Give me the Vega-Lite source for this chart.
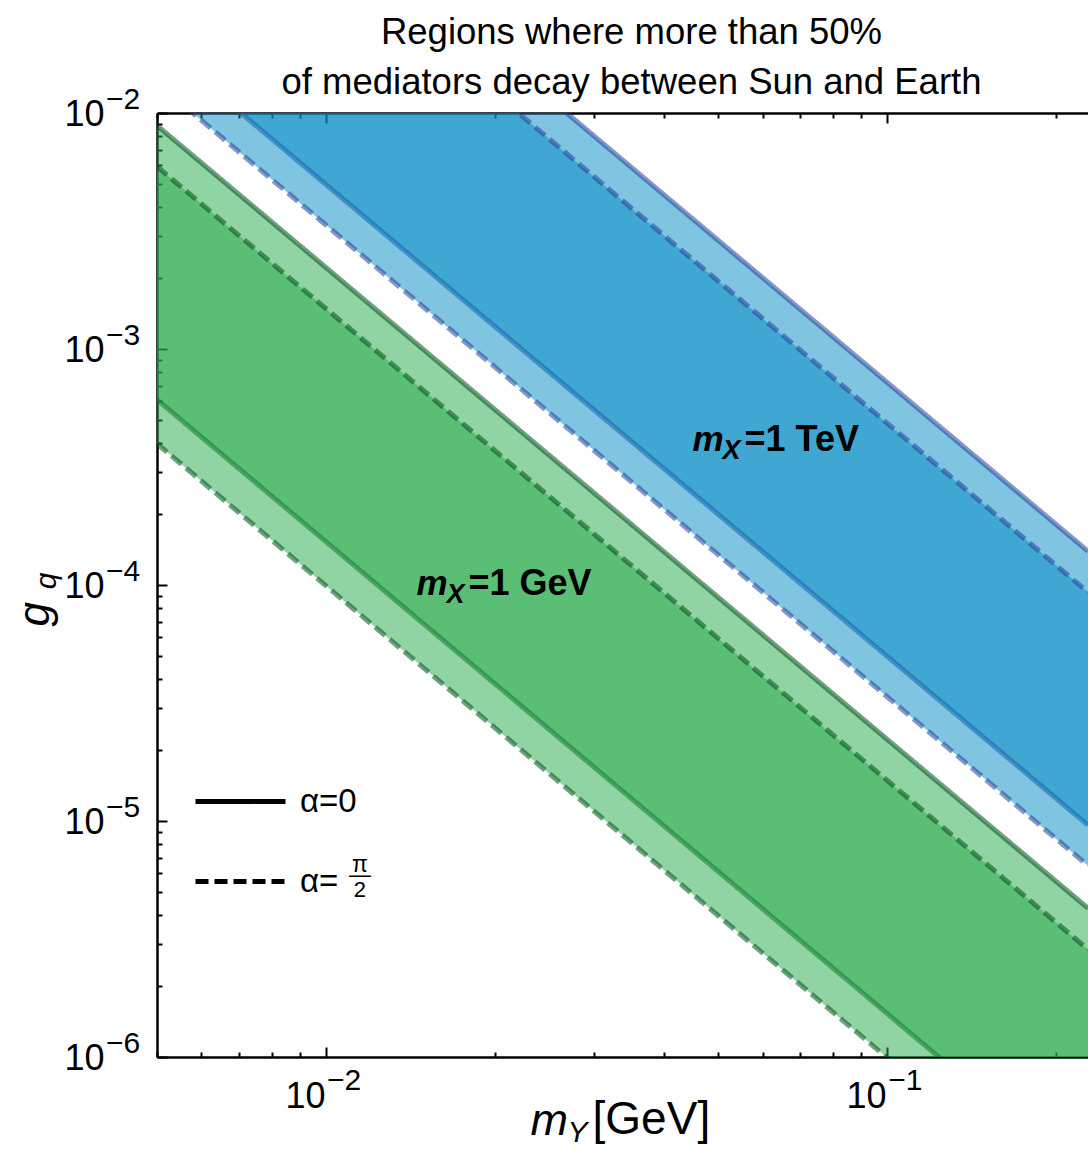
{
  "$schema": "https://vega.github.io/schema/vega-lite/v6.json",
  "width": 931,
  "height": 944,
  "autosize": {"type": "none"},
  "padding": {"left": 157, "top": 113, "right": 0, "bottom": 94},
  "background": "white",
  "config": {"view": {"stroke": null}, "font": "Liberation Sans"},
  "title": {
    "text": ["Regions where more than 50%", "of mediators decay between Sun and Earth"],
    "fontSize": 36.5, "fontWeight": "normal", "font": "Liberation Sans", "color": "black",
    "anchor": "middle", "frame": "group", "lineHeight": 50, "offset": -16, "dx": 9
  },
  "datasets": {
    "bands": [
      {"m": 0.005, "group": "1 GeV", "alpha": "α=0", "lo": 6.10e-4, "hi": 8.85e-3},
      {"m": 0.228, "group": "1 GeV", "alpha": "α=0", "lo": 2.94e-7, "hi": 4.27e-6},
      {"m": 0.005, "group": "1 GeV", "alpha": "α=π/2", "lo": 3.97e-4, "hi": 5.93e-3},
      {"m": 0.228, "group": "1 GeV", "alpha": "α=π/2", "lo": 1.91e-7, "hi": 2.86e-6},
      {"m": 0.005, "group": "1 TeV", "alpha": "α=0", "lo": 0.0199, "hi": 0.288},
      {"m": 0.228, "group": "1 TeV", "alpha": "α=0", "lo": 9.6e-6, "hi": 1.39e-4},
      {"m": 0.005, "group": "1 TeV", "alpha": "α=π/2", "lo": 0.0134, "hi": 0.194},
      {"m": 0.228, "group": "1 TeV", "alpha": "α=π/2", "lo": 6.47e-6, "hi": 9.33e-5}
    ],
    "notes": [
      {"m": 0.045, "g": 3.7e-4, "sym": "m", "sub": "X", "rest": "=1 TeV"},
      {"m": 0.0145, "g": 9.1e-5, "sym": "m", "sub": "X", "rest": "=1 GeV"}
    ],
    "frac": [{"m": 0.0115, "g": 5.8e-6, "num": "π", "bar": "—", "den": "2"}],
    "yexp": [
      {"m": 0.005, "g": 1e-2, "exp": "−2"},
      {"m": 0.005, "g": 1e-3, "exp": "−3"},
      {"m": 0.005, "g": 1e-4, "exp": "−4"},
      {"m": 0.005, "g": 1e-5, "exp": "−5"},
      {"m": 0.005, "g": 1e-6, "exp": "−6"}
    ],
    "xexp": [
      {"m": 0.01, "g": 1e-6, "exp": "−2"},
      {"m": 0.1, "g": 1e-6, "exp": "−1"}
    ],
    "ytitle": [{"m": 0.005, "g": 9.6e-5, "sub": "q"}],
    "xtitle": [{"m": 0.02695, "g": 1e-6, "sub": "Y", "rest": "[GeV]"}]
  },
  "layer": [
    {
      "data": {"name": "bands"},
      "transform": [{"filter": "datum.alpha == 'α=0'"}],
      "mark": {"type": "area", "clip": true, "opacity": 0.5},
      "encoding": {
        "x": {"field": "m", "type": "quantitative",
          "scale": {"type": "log", "domain": [0.005, 0.228], "nice": false},
          "axis": {
            "orient": "bottom", "title": "m", "titleFont": "Liberation Sans", "titleFontStyle": "italic", "titleFontWeight": "normal",
            "titleFontSize": 45, "titleColor": "black", "titleAlign": "left", "titleBaseline": "alphabetic", "titleAnchor": "start",
            "titleX": 373, "titleY": 77,
            "values": [0.005,0.006,0.007,0.008,0.009,0.01,0.02,0.03,0.04,0.05,0.06,0.07,0.08,0.09,0.1,0.2],
            "labelExpr": "datum.value == 0.01 || datum.value == 0.1 ? '10' : ''",
            "labelFontSize": 36, "labelColor": "black", "labelFont": "Liberation Sans", "labelPadding": 60,
            "labelAlign": "right", "labelBaseline": "alphabetic", "labelOffset": -1,
            "domainColor": "black", "domainWidth": 2.5, "tickColor": "black", "tickWidth": 2,
            "tickSize": {"condition": {"test": "datum.value == 0.01 || datum.value == 0.1", "value": -10}, "value": -5},
            "grid": false
          }},
        "y": {"field": "lo", "type": "quantitative",
          "scale": {"type": "log", "domain": [1e-6, 1e-2], "nice": false},
          "axis": {
            "orient": "left", "title": "g", "titleFont": "Liberation Sans", "titleFontStyle": "italic", "titleFontWeight": "normal",
            "titleFontSize": 44, "titleColor": "black", "titleAngle": 270, "titleAlign": "left", "titleBaseline": "alphabetic", "titleAnchor": "start",
            "titleX": -109, "titleY": 513,
            "values": [1e-6,2e-6,3e-6,4e-6,5e-6,6e-6,7e-6,8e-6,9e-6,1e-5,2e-5,3e-5,4e-5,5e-5,6e-5,7e-5,8e-5,9e-5,1e-4,2e-4,3e-4,4e-4,5e-4,6e-4,7e-4,8e-4,9e-4,1e-3,2e-3,3e-3,4e-3,5e-3,6e-3,7e-3,8e-3,9e-3,1e-2],
            "labelExpr": "datum.value == 1e-2 || datum.value == 1e-3 || datum.value == 1e-4 || datum.value == 1e-5 || datum.value == 1e-6 ? '10' : ''",
            "labelFontSize": 36, "labelColor": "black", "labelFont": "Liberation Sans", "labelPadding": 63,
            "labelBaseline": "alphabetic", "labelOffset": 12,
            "domainColor": "black", "domainWidth": 2.5, "tickColor": "black", "tickWidth": 2,
            "tickSize": {"condition": {"test": "datum.value == 1e-2 || datum.value == 1e-3 || datum.value == 1e-4 || datum.value == 1e-5 || datum.value == 1e-6", "value": -10}, "value": -5},
            "grid": false
          }},
        "y2": {"field": "hi"},
        "fill": {"field": "group", "type": "nominal", "scale": {"domain": ["1 GeV", "1 TeV"], "range": ["#23a947", "#0089c3"]}, "legend": null}
      }
    },
    {
      "data": {"name": "bands"},
      "transform": [{"filter": "datum.alpha == 'α=0'"}, {"fold": ["lo", "hi"], "as": ["edge", "g"]}],
      "mark": {"type": "line", "clip": true, "strokeWidth": 5, "strokeOpacity": 0.55},
      "encoding": {
        "x": {"field": "m", "type": "quantitative",
          "axis": {"orient": "top", "title": null, "labels": false, "values": [0.005,0.006,0.007,0.008,0.009,0.01,0.02,0.03,0.04,0.05,0.06,0.07,0.08,0.09,0.1,0.2],
            "domainColor": "black", "domainWidth": 2.5, "tickColor": "black", "tickWidth": 2,
            "tickSize": {"condition": {"test": "datum.value == 0.01 || datum.value == 0.1", "value": -10}, "value": -5}, "grid": false}},
        "y": {"field": "g", "type": "quantitative", "axis": null},
        "stroke": {"field": "group", "type": "nominal", "scale": {"domain": ["1 GeV", "1 TeV"], "range": ["#00511a", "#23419b"]}, "legend": null},
        "strokeDash": {"field": "alpha", "type": "nominal", "scale": {"domain": ["α=0", "α=π/2"], "range": [[1, 0], [13, 6]]},
          "legend": {"orient": "none", "legendX": 36, "legendY": 641, "title": null, "symbolType": "stroke", "symbolSize": 8100,
            "symbolStrokeWidth": 5, "symbolStrokeColor": "black", "symbolOpacity": 1, "labelFontSize": 33, "labelFont": "Liberation Sans", "labelColor": "black",
            "labelOffset": 12, "rowPadding": 15,
            "labelExpr": "datum.label == 'α=π/2' ? 'α=' : datum.label"}},
        "detail": {"field": "edge"}
      }
    },
    {
      "data": {"name": "bands"},
      "transform": [{"filter": "datum.alpha == 'α=π/2'"}],
      "mark": {"type": "area", "clip": true, "opacity": 0.5},
      "encoding": {
        "x": {"field": "m", "type": "quantitative", "axis": null},
        "y": {"field": "lo", "type": "quantitative", "axis": null},
        "y2": {"field": "hi"},
        "fill": {"field": "group", "type": "nominal", "legend": null}
      }
    },
    {
      "data": {"name": "bands"},
      "transform": [{"filter": "datum.alpha == 'α=π/2'"}, {"fold": ["lo", "hi"], "as": ["edge", "g"]}],
      "mark": {"type": "line", "clip": true, "strokeWidth": 5, "strokeOpacity": 0.55},
      "encoding": {
        "x": {"field": "m", "type": "quantitative", "axis": null},
        "y": {"field": "g", "type": "quantitative", "axis": null},
        "stroke": {"field": "group", "type": "nominal", "legend": null},
        "strokeDash": {"field": "alpha", "type": "nominal"},
        "detail": {"field": "edge"}
      }
    },
    {
      "data": {"name": "frac"},
      "mark": {"type": "text", "font": "Liberation Sans", "fontSize": 23, "align": "center", "baseline": "alphabetic", "color": "black", "dy": -5},
      "encoding": {
        "x": {"field": "m", "type": "quantitative", "axis": null},
        "y": {"field": "g", "type": "quantitative", "axis": null},
        "text": {"field": "num"}
      }
    },
    {
      "data": {"name": "frac"},
      "mark": {"type": "text", "font": "Liberation Sans", "fontSize": 22, "align": "center", "baseline": "alphabetic", "color": "black", "dy": 5},
      "encoding": {
        "x": {"field": "m", "type": "quantitative", "axis": null},
        "y": {"field": "g", "type": "quantitative", "axis": null},
        "text": {"field": "bar"}
      }
    },
    {
      "data": {"name": "frac"},
      "mark": {"type": "text", "font": "Liberation Sans", "fontSize": 22, "align": "center", "baseline": "alphabetic", "color": "black", "dy": 20},
      "encoding": {
        "x": {"field": "m", "type": "quantitative", "axis": null},
        "y": {"field": "g", "type": "quantitative", "axis": null},
        "text": {"field": "den"}
      }
    },
    {
      "data": {"name": "notes"},
      "mark": {"type": "text", "font": "Liberation Sans", "fontStyle": "italic", "fontWeight": "bold", "fontSize": 35, "align": "left", "baseline": "alphabetic", "color": "black"},
      "encoding": {
        "x": {"field": "m", "type": "quantitative", "axis": null},
        "y": {"field": "g", "type": "quantitative", "axis": null},
        "text": {"field": "sym"}
      }
    },
    {
      "data": {"name": "notes"},
      "mark": {"type": "text", "font": "Liberation Sans", "fontStyle": "italic", "fontWeight": "bold", "fontSize": 27, "align": "left", "baseline": "alphabetic", "color": "black", "dx": 30, "dy": 8},
      "encoding": {
        "x": {"field": "m", "type": "quantitative", "axis": null},
        "y": {"field": "g", "type": "quantitative", "axis": null},
        "text": {"field": "sub"}
      }
    },
    {
      "data": {"name": "notes"},
      "mark": {"type": "text", "font": "Liberation Sans", "fontWeight": "bold", "fontSize": 36, "align": "left", "baseline": "alphabetic", "color": "black", "dx": 52},
      "encoding": {
        "x": {"field": "m", "type": "quantitative", "axis": null},
        "y": {"field": "g", "type": "quantitative", "axis": null},
        "text": {"field": "rest"}
      }
    },
    {
      "data": {"name": "yexp"},
      "mark": {"type": "text", "font": "Liberation Sans", "fontSize": 30, "align": "left", "baseline": "alphabetic", "color": "black", "dx": -51, "dy": -4, "clip": false},
      "encoding": {
        "x": {"field": "m", "type": "quantitative", "axis": null},
        "y": {"field": "g", "type": "quantitative", "axis": null},
        "text": {"field": "exp"}
      }
    },
    {
      "data": {"name": "xexp"},
      "mark": {"type": "text", "font": "Liberation Sans", "fontSize": 30, "align": "left", "baseline": "alphabetic", "color": "black", "dx": 1, "dy": 33, "clip": false},
      "encoding": {
        "x": {"field": "m", "type": "quantitative", "axis": null},
        "y": {"field": "g", "type": "quantitative", "axis": null},
        "text": {"field": "exp"}
      }
    },
    {
      "data": {"name": "ytitle"},
      "mark": {"type": "text", "font": "Liberation Sans", "fontStyle": "italic", "fontSize": 30, "align": "left", "baseline": "alphabetic", "color": "black", "angle": 270, "dy": -101, "clip": false},
      "encoding": {
        "x": {"field": "m", "type": "quantitative", "axis": null},
        "y": {"field": "g", "type": "quantitative", "axis": null},
        "text": {"field": "sub"}
      }
    },
    {
      "data": {"name": "xtitle"},
      "mark": {"type": "text", "font": "Liberation Sans", "fontStyle": "italic", "fontSize": 30, "align": "left", "baseline": "alphabetic", "color": "black", "dy": 85, "clip": false},
      "encoding": {
        "x": {"field": "m", "type": "quantitative", "axis": null},
        "y": {"field": "g", "type": "quantitative", "axis": null},
        "text": {"field": "sub"}
      }
    },
    {
      "data": {"name": "xtitle"},
      "mark": {"type": "text", "font": "Liberation Sans", "fontSize": 46, "align": "left", "baseline": "alphabetic", "color": "black", "dx": 25, "dy": 77, "clip": false},
      "encoding": {
        "x": {"field": "m", "type": "quantitative", "axis": null},
        "y": {"field": "g", "type": "quantitative", "axis": null},
        "text": {"field": "rest"}
      }
    }
  ],
  "resolve": {"axis": {"x": "independent", "y": "independent"}}
}
